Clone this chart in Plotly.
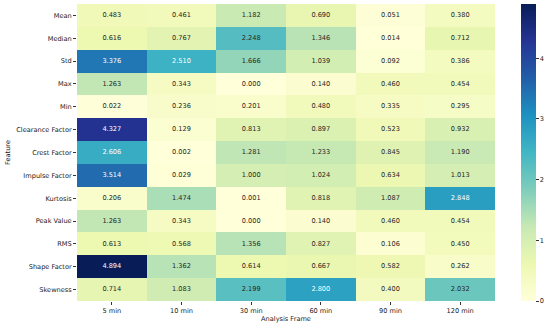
import plotly.graph_objects as go

features = ["Mean", "Median", "Std", "Max", "Min", "Clearance Factor", "Crest Factor",
            "Impulse Factor", "Kurtosis", "Peak Value", "RMS", "Shape Factor", "Skewness"]
frames = ["5 min", "10 min", "30 min", "60 min", "90 min", "120 min"]

v_5 = [0.483, 0.616, 3.376, 1.263, 0.022, 4.327, 2.606, 3.514, 0.206, 1.263, 0.613, 4.894, 0.714]
v_10 = [0.461, 0.767, 2.510, 0.343, 0.236, 0.129, 0.002, 0.029, 1.474, 0.343, 0.568, 1.362, 1.083]
v_30 = [1.182, 2.248, 1.666, 0.000, 0.201, 0.813, 1.281, 1.000, 0.001, 0.000, 1.356, 0.614, 2.199]
v_60 = [0.690, 1.346, 1.039, 0.140, 0.480, 0.897, 1.233, 1.024, 0.818, 0.140, 0.827, 0.667, 2.800]
v_90 = [0.051, 0.014, 0.092, 0.460, 0.335, 0.523, 0.845, 0.634, 1.087, 0.460, 0.106, 0.582, 0.400]
v_120 = [0.380, 0.712, 0.386, 0.454, 0.295, 0.932, 1.190, 1.013, 2.848, 0.454, 0.450, 0.262, 2.032]

cols = [v_5, v_10, v_30, v_60, v_90, v_120]
z = [[cols[j][i] for j in range(len(frames))] for i in range(len(features))]

fnt = "DejaVu Sans"
fs = 6.6
fig = go.Figure()
fig.add_trace(go.Heatmap(
    z=z, x=frames, y=features, colorscale="YlGnBu", zmin=0, zmax=max(max(c) for c in cols),
    hoverinfo="skip",
    colorbar=dict(x=1.062, xanchor="left", thickness=15, len=1, lenmode="fraction",
                  xpad=0, ypad=0,
                  y=0.5, yanchor="middle", outlinewidth=0, ticks="outside", ticklen=3,
                  tickcolor="#333", tickvals=[0, 1, 2, 3, 4],
                  tickfont=dict(family=fnt, size=fs, color="#222")),
))

tx, ty, tt, tc = [], [], [], []
for i, f in enumerate(features):
    for j, fr in enumerate(frames):
        val = z[i][j]
        tx.append(fr); ty.append(f); tt.append(f"{val:.3f}")
        tc.append("#ffffff" if val >= 2.4 else "#262626")
fig.add_trace(go.Scatter(x=tx, y=ty, text=tt, mode="text",
                         textfont=dict(family=fnt, size=fs, color=tc),
                         hoverinfo="skip", showlegend=False))

fig.update_layout(
    width=550, height=325, margin=dict(l=77, r=55, t=4, b=24),
    plot_bgcolor="white", paper_bgcolor="white",
    font=dict(family=fnt, size=fs, color="#222"),
    showlegend=False,
)
fig.update_xaxes(ticks="outside", ticklen=3, tickcolor="#333", showgrid=False, zeroline=False,
                 range=[-0.5, 5.5],
                 title=dict(text="Analysis Frame", font=dict(size=fs), standoff=0),
                 tickfont=dict(size=fs), automargin=False)
fig.update_yaxes(ticks="outside", ticklen=3, tickcolor="#333", showgrid=False, zeroline=False,
                 range=[12.5, -0.5],
                 title=dict(text="Feature", font=dict(size=fs), standoff=4),
                 tickfont=dict(size=fs), automargin=False)

fig.write_html("out.html", config={"displayModeBar": False},
               post_script="document.body.style.margin='0';")
